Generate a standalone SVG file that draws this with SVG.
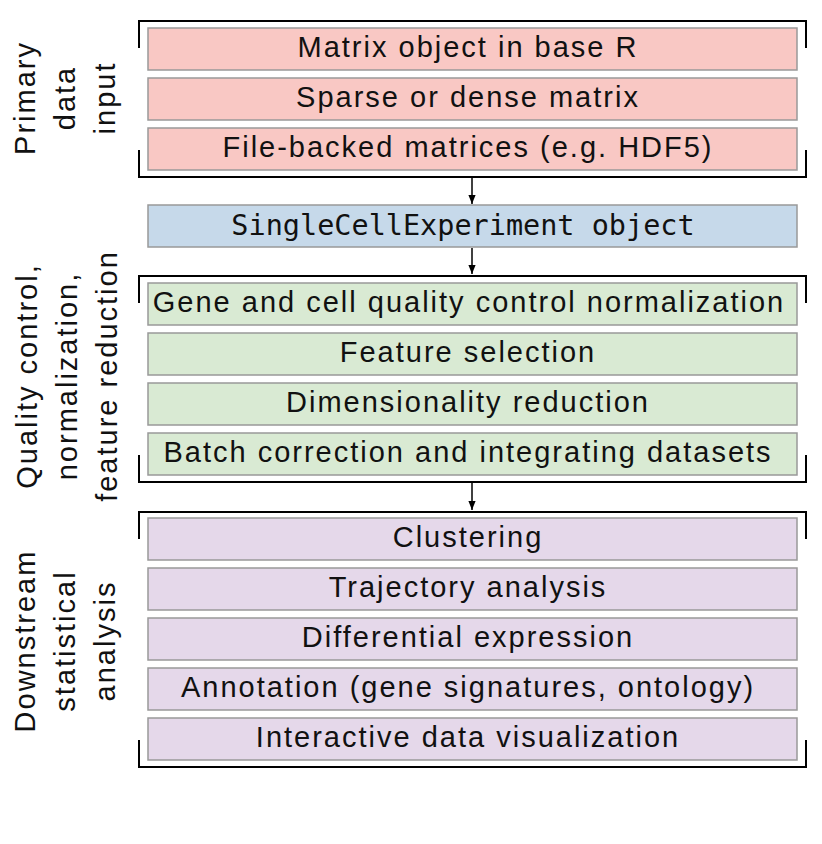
<svg xmlns="http://www.w3.org/2000/svg" width="822" height="844" viewBox="0 0 822 844">
<defs>
<marker id="ah" viewBox="0 0 10 10" refX="10" refY="5" markerWidth="9" markerHeight="9" markerUnits="userSpaceOnUse" orient="auto">
<path d="M0,1 L10,5 L0,9 z" fill="#000"/>
</marker>
<style>
.box{stroke:#999;stroke-width:1.5}
.pink{fill:#f9c8c4}
.blue{fill:#c6d9ea}
.green{fill:#d9ead3}
.purple{fill:#e5d8ea}
.t{font-family:"Liberation Sans",Arial,sans-serif;font-size:29px;letter-spacing:2px;fill:#111;text-anchor:middle}
.m{font-family:"DejaVu Sans Mono",monospace;font-size:28.5px;fill:#111;text-anchor:middle}
.lab{font-family:"Liberation Sans",Arial,sans-serif;font-size:29px;letter-spacing:2px;fill:#111;text-anchor:middle}
.br{fill:none;stroke:#000;stroke-width:2}
.ar{fill:none;stroke:#000;stroke-width:1.5}
</style>
</defs>
<rect width="822" height="844" fill="#fff"/>

<g id="brackets">
<path class="br" d="M139,48 V21 H806 V48"/>
<path class="br" d="M139,150 V177 H806 V150"/>
<path class="br" d="M139,303 V276 H806 V303"/>
<path class="br" d="M139,455 V482 H806 V455"/>
<path class="br" d="M139,539 V512 H806 V539"/>
<path class="br" d="M139,740 V767 H806 V740"/>
</g>

<g id="labels">
<text class="lab" transform="translate(25,98) rotate(-90)"><tspan x="0" y="10">Primary</tspan><tspan x="0" y="50">data</tspan><tspan x="0" y="90">input</tspan></text>
<text class="lab" transform="translate(27,376) rotate(-90)"><tspan x="0" y="10">Quality control,</tspan><tspan x="0" y="50">normalization,</tspan><tspan x="0" y="90">feature reduction</tspan></text>
<text class="lab" transform="translate(25,641) rotate(-90)"><tspan x="0" y="10">Downstream</tspan><tspan x="0" y="50">statistical</tspan><tspan x="0" y="90">analysis</tspan></text>
</g>

<g id="connectors">
<line class="ar" x1="472" y1="178" x2="472" y2="204" marker-end="url(#ah)"/>
<line class="ar" x1="472" y1="248" x2="472" y2="274" marker-end="url(#ah)"/>
<line class="ar" x1="472" y1="483" x2="472" y2="510" marker-end="url(#ah)"/>
</g>

<g id="n1"><rect class="box pink" x="148" y="28" width="649" height="42"/><text class="t" x="468" y="57">Matrix object in base R</text></g>
<g id="n2"><rect class="box pink" x="148" y="78" width="649" height="42"/><text class="t" x="468" y="107">Sparse or dense matrix</text></g>
<g id="n3"><rect class="box pink" x="148" y="128" width="649" height="42"/><text class="t" x="468" y="157">File-backed matrices (e.g. HDF5)</text></g>

<g id="n4"><rect class="box blue" x="148" y="205" width="649" height="42"/><text class="m" x="463" y="235">SingleCellExperiment object</text></g>

<g id="n5"><rect class="box green" x="148" y="283" width="649" height="42"/><text class="t" x="469" y="312">Gene and cell quality control normalization</text></g>
<g id="n6"><rect class="box green" x="148" y="333" width="649" height="42"/><text class="t" x="468" y="362">Feature selection</text></g>
<g id="n7"><rect class="box green" x="148" y="383" width="649" height="42"/><text class="t" x="468" y="412">Dimensionality reduction</text></g>
<g id="n8"><rect class="box green" x="148" y="433" width="649" height="42"/><text class="t" x="468" y="462">Batch correction and integrating datasets</text></g>

<g id="n9"><rect class="box purple" x="148" y="518" width="649" height="42"/><text class="t" x="468" y="547">Clustering</text></g>
<g id="n10"><rect class="box purple" x="148" y="568" width="649" height="42"/><text class="t" x="468" y="597">Trajectory analysis</text></g>
<g id="n11"><rect class="box purple" x="148" y="618" width="649" height="42"/><text class="t" x="468" y="647">Differential expression</text></g>
<g id="n12"><rect class="box purple" x="148" y="668" width="649" height="42"/><text class="t" x="468" y="697">Annotation (gene signatures, ontology)</text></g>
<g id="n13"><rect class="box purple" x="148" y="718" width="649" height="42"/><text class="t" x="468" y="747">Interactive data visualization</text></g>
</svg>
